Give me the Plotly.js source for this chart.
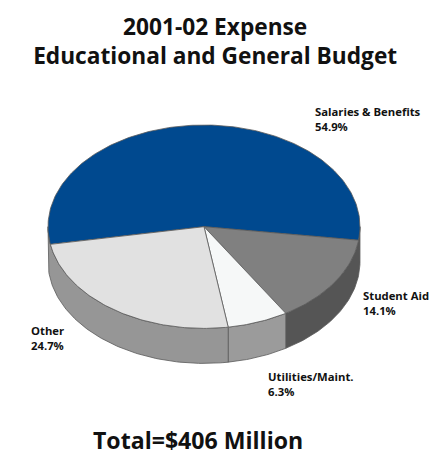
<!DOCTYPE html>
<html><head><meta charset="utf-8">
<script src="https://cdn.plot.ly/plotly-3.0.1.min.js"></script>
<style>html,body{margin:0;padding:0;background:#fff}#c{width:432px;height:468px}</style>
</head><body><div id="c"></div>
<script>
const categories = ["Salaries & Benefits","Student Aid","Utilities/Maint.","Other"];
const shares = [54.9,14.1,6.3,24.7];
const shareLabels = ["54.9%","14.1%","6.3%","24.7%"];
const topColors = ["#00498f","#808080","#f6f8f8","#e1e1e1"];
const sideColors = ["#808080","#555555","#9b9b9b","#969696"];
const labelX = [312.5,360.5,265.5,28.5];
const labelY = [118.5,303,383.5,337.5];
const titleText = "2001-02 Expense<br>Educational and General Budget";
const totalText = "Total=$406 Million";

const cx=204, cy=226.7, rx=156, ry=101.7, depth=35, startDeg=-100;
const FONT='"Open Sans", "Noto Sans", sans-serif';
const pt=(d,dy=0)=>[cx+rx*Math.sin(d*Math.PI/180), cy-ry*Math.cos(d*Math.PI/180)+dy];
const arc=(a,b,dy=0)=>{const n=Math.max(2,Math.ceil(Math.abs(b-a)));const o=[];for(let i=0;i<=n;i++)o.push(pt(a+(b-a)*i/n,dy));return o;};
const poly=(pts,fill,lw)=>({type:'scatter',mode:'lines',x:pts.map(p=>p[0]),y:pts.map(p=>p[1]),fill:'toself',fillcolor:fill,
  line:{color:'#5a5a5a',width:lw},hoverinfo:'skip',showlegend:false});

const total=shares.reduce((a,b)=>a+b,0);
let d=startDeg; const spans=shares.map(s=>{const a=d;d+=s/total*360;return [a,d];});
const sides=[], tops=[];
spans.forEach(([a,b],i)=>{
  let s=a,e=b;
  if(i===0) return;              // the blue slice's rim is hidden by the neighbours' colour
  if(i===1) s=90;                // dark rim runs up to the right extreme
  if(i===3) e=270;               // grey rim runs up to the left extreme
  const up=arc(s,e), dn=arc(e,s,depth);
  sides.push(poly(up.concat(dn,[up[0]]),sideColors[i],0.8));
});
spans.forEach(([a,b],i)=>{
  const pts=[[cx,cy]].concat(arc(a,b),[[cx,cy]]);
  tops.push(poly(pts,topColors[i],0.8));
});
const ann=categories.map((c,i)=>({x:labelX[i],y:labelY[i],xref:'x',yref:'y',xanchor:'left',yanchor:'middle',align:'left',showarrow:false,
  text:`<b>${c}</b><br><b>${shareLabels[i]}</b>`,font:{family:FONT,size:11.3,color:'#111'}}));
ann.push({x:197.5,y:439.5,xref:'x',yref:'y',xanchor:'center',yanchor:'middle',showarrow:false,text:`<b>${totalText}</b>`,font:{family:FONT,size:23.1,color:'#111'}});

Plotly.newPlot('c',sides.concat(tops),{
  width:432,height:468,margin:{l:0,r:0,t:0,b:0},paper_bgcolor:'#fff',plot_bgcolor:'#fff',showlegend:false,
  title:{text:`<b>${titleText}</b>`,x:0.498,xanchor:'center',y:0.926,yanchor:'middle',font:{family:FONT,size:22.7,color:'#111'}},
  xaxis:{range:[0,432],visible:false,fixedrange:true},
  yaxis:{range:[468,0],visible:false,fixedrange:true},
  annotations:ann
},{displayModeBar:false,staticPlot:true});
</script></body></html>
